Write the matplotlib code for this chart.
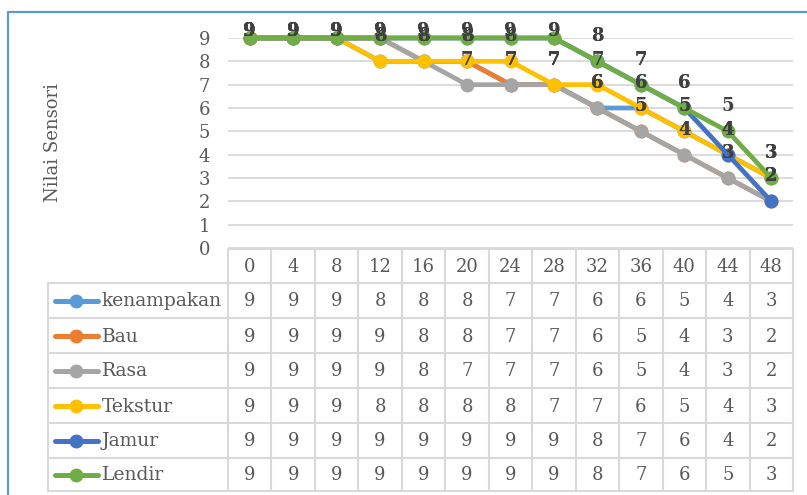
import matplotlib.pyplot as plt
from matplotlib.lines import Line2D

plt.rcParams['font.family'] = ['DejaVu Serif']

# data
jam = [0, 4, 8, 12, 16, 20, 24, 28, 32, 36, 40, 44, 48]
kenampakan = [9, 9, 9, 8, 8, 8, 7, 7, 6, 6, 5, 4, 3]
bau = [9, 9, 9, 9, 8, 8, 7, 7, 6, 5, 4, 3, 2]
rasa = [9, 9, 9, 9, 8, 7, 7, 7, 6, 5, 4, 3, 2]
tekstur = [9, 9, 9, 8, 8, 8, 8, 7, 7, 6, 5, 4, 3]
jamur = [9, 9, 9, 9, 9, 9, 9, 9, 8, 7, 6, 4, 2]
lendir = [9, 9, 9, 9, 9, 9, 9, 9, 8, 7, 6, 5, 3]

nama = ['kenampakan', 'Bau', 'Rasa', 'Tekstur', 'Jamur', 'Lendir']
seri = [kenampakan, bau, rasa, tekstur, jamur, lendir]
warna = ['#5B9BD5', '#ED7D31', '#A5A5A5', '#FFC000', '#4472C4', '#70AD47']

W, H = 807, 495
fig = plt.figure(figsize=(W / 100, H / 100), dpi=100)

# plot area in pixels
x0, x1 = 228, 793
y_top, y_bot = 38, 248
ax = fig.add_axes([x0 / W, (H - y_bot) / H, (x1 - x0) / W, (y_bot - y_top) / H])
ax.set_xlim(-2, 50)
ax.set_ylim(0, 9)
ax.set_yticks(range(10))
ax.set_xticks([])
ax.grid(axis='y', color='#D9D9D9', linewidth=1.3)
ax.set_axisbelow(True)
for s in ax.spines.values():
    s.set_visible(False)
ax.tick_params(axis='y', length=0, pad=13, labelsize=13, labelcolor='#595959')
ax.set_ylabel('Nilai Sensori', fontsize=13, color='#595959', labelpad=0)
ax.yaxis.set_label_coords(-0.294, 0.5)

for y, c, lab in zip(seri, warna, nama):
    ax.plot(jam, y, color=c, linewidth=3.4, marker='o', markersize=9,
            label=lab, clip_on=False, solid_capstyle='round')

# data labels above each point
unit = (y_bot - y_top) / 9
for y in seri:
    for h, v in zip(jam, y):
        ly = min(v + 25 / unit, 9 + 7 / unit)
        ax.text(h, ly, str(v), ha='center', va='center', fontsize=13,
                fontweight='bold', color='#404040', clip_on=False)

# overlay axes in pixel coordinates for the data table and chart border
ov = fig.add_axes([0, 0, 1, 1], zorder=-1)
ov.set_xlim(0, W)
ov.set_ylim(H, 0)
ov.axis('off')

garis = '#D9D9D9'
col_w = (x1 - x0) / len(jam)
rows = [249, 283, 318, 353, 388, 423, 458, 491]
leg_x = 48

# horizontal lines
ov.add_line(Line2D([x0, x1], [rows[0], rows[0]], color=garis, lw=1.5))
for r in rows[1:]:
    ov.add_line(Line2D([leg_x, x1], [r, r], color=garis, lw=1.5))
# vertical lines
for i in range(len(jam) + 1):
    xv = x0 + i * col_w
    ov.add_line(Line2D([xv, xv], [rows[0], rows[-1]], color=garis, lw=1.5))
ov.add_line(Line2D([leg_x, leg_x], [rows[1], rows[-1]], color=garis, lw=1.5))

# header
for i, h in enumerate(jam):
    ov.text(x0 + (i + 0.5) * col_w, (rows[0] + rows[1]) / 2 + 1, str(h),
            ha='center', va='center', fontsize=13, color='#595959')

# body rows with legend keys
for j, (y, c, lab) in enumerate(zip(seri, warna, nama)):
    yc = (rows[j + 1] + rows[j + 2]) / 2
    ov.add_line(Line2D([55, 98], [yc, yc], color=c, lw=3.6,
                       solid_capstyle='round'))
    ov.plot([76], [yc], marker='o', color=c, markersize=9)
    ov.text(102, yc + 1, lab, ha='left', va='center', fontsize=13.5,
            color='#595959')
    for i, v in enumerate(y):
        ov.text(x0 + (i + 0.5) * col_w, yc + 1, str(v), ha='center',
                va='center', fontsize=13, color='#595959')

# chart border
ov.add_line(Line2D([8, 8, W + 5], [H + 5, 12, 12], color='#5B9BD5', lw=1.6))

fig.savefig('out.png', dpi=100)
